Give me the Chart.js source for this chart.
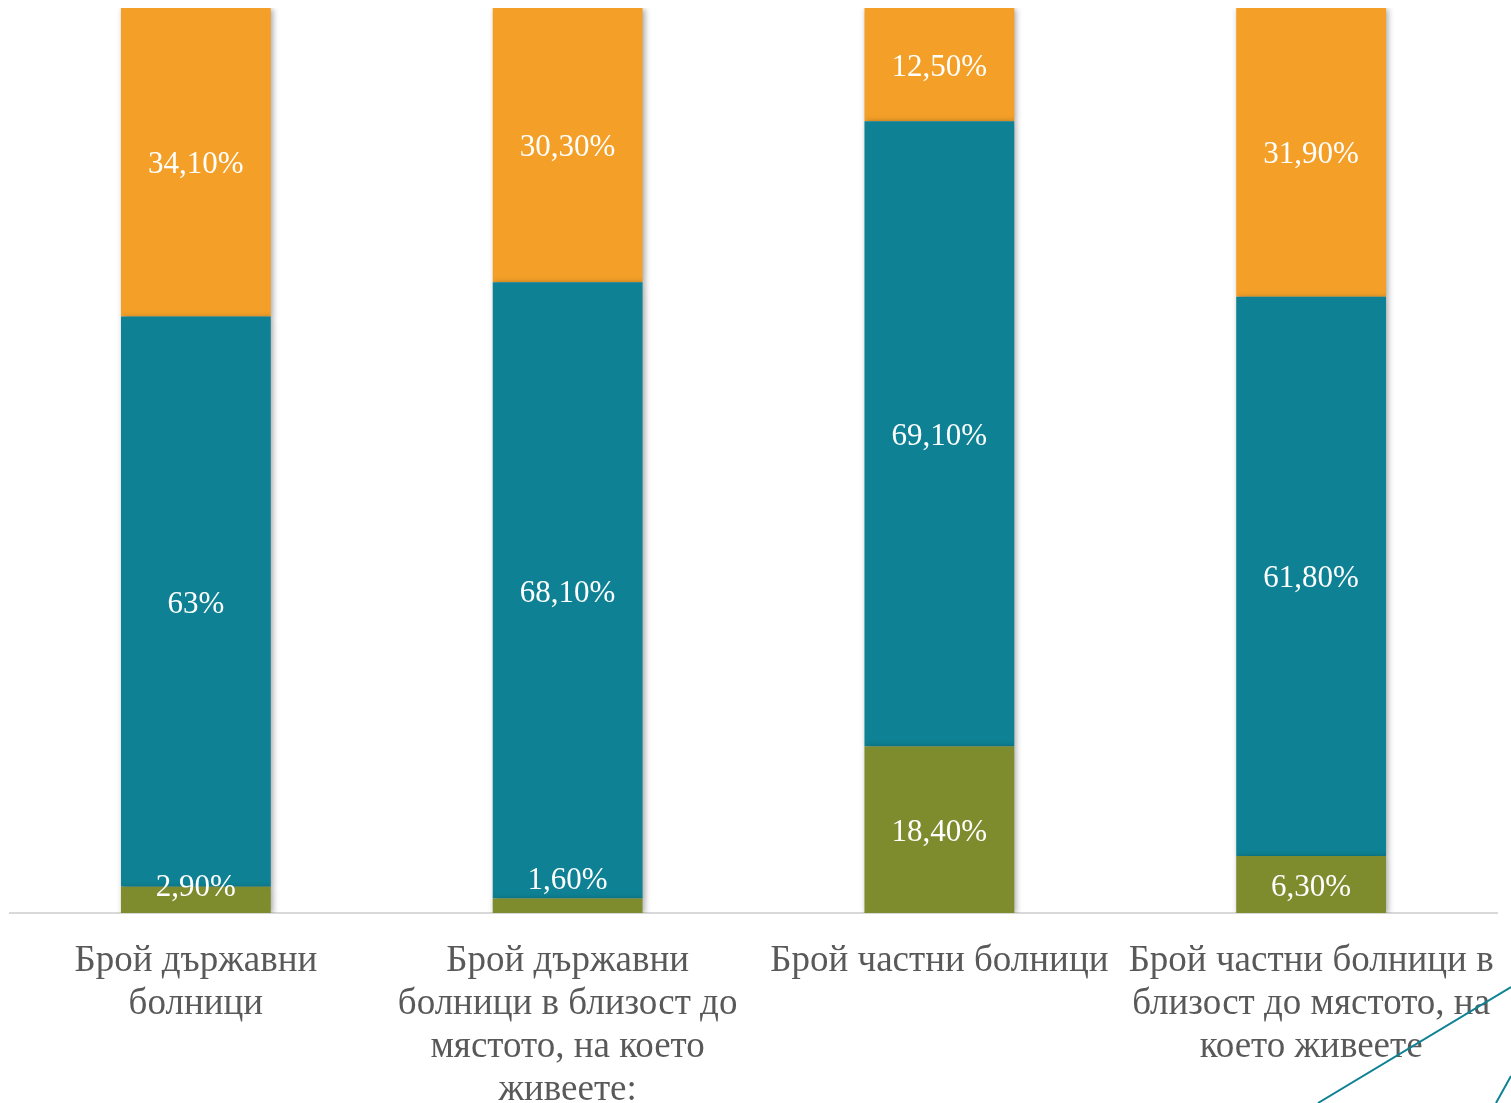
<!DOCTYPE html>
<html>
<head>
<meta charset="utf-8">
<script src="https://cdn.jsdelivr.net/npm/chart.js@4.4.0/dist/chart.umd.min.js"></script>
<style>
html,body{margin:0;padding:0;background:#fff;}
#wrap{width:1511px;height:1103px;position:relative;}
</style>
</head>
<body>
<div id="wrap"><canvas id="c" width="1511" height="1103"></canvas></div>
<script>
const categories = [
  ["Брой държавни", "болници"],
  ["Брой държавни", "болници в близост до", "мястото, на което", "живеете:"],
  ["Брой частни болници"],
  ["Брой частни болници в", "близост до мястото, на", "което живеете"]
];
const seriesNames = ["Series A", "Series B", "Series C"];
const bottomValues = [2.9, 1.6, 18.4, 6.3];
const middleValues = [63, 68.1, 69.1, 61.8];
const topValues = [34.1, 30.3, 12.5, 31.9];
const colors = ["#7F8C2E", "#0E8294", "#F4A028"];

function fmt(v){
  if (Number.isInteger(v)) return v + "%";
  return v.toFixed(2).replace(".", ",") + "%";
}

const shadowPlugin = {
  id: 'shadow',
  beforeDatasetsDraw(chart){
    const ctx = chart.ctx;
    ctx.save();
    ctx.shadowColor = 'rgba(0,0,0,0.35)';
    ctx.shadowBlur = 6;
    ctx.shadowOffsetX = 2;
    ctx.shadowOffsetY = 1;
  },
  afterDatasetsDraw(chart){
    chart.ctx.restore();
  }
};

const labelPlugin = {
  id: 'labels',
  afterDatasetsDraw(chart){
    const ctx = chart.ctx;
    ctx.save();
    ctx.font = '31px "Liberation Serif", "Times New Roman", serif';
    ctx.fillStyle = '#ffffff';
    ctx.textAlign = 'center';
    ctx.textBaseline = 'middle';
    chart.data.datasets.forEach((ds, di) => {
      const meta = chart.getDatasetMeta(di);
      meta.data.forEach((bar, i) => {
        const top = Math.min(bar.y, bar.base);
        const bot = Math.max(bar.y, bar.base);
        const h = bot - top;
        let y = (top + bot) / 2;
        if (h < 40) y -= (40 - h) * 1.1;
        ctx.fillText(fmt(ds.data[i]), bar.x, y + 3);
      });
    });
    ctx.restore();
  }
};

const decoPlugin = {
  id: 'deco',
  afterDraw(chart){
    const ctx = chart.ctx;
    ctx.save();
    ctx.strokeStyle = '#0E8294';
    ctx.lineWidth = 2;
    ctx.beginPath();
    ctx.moveTo(1318, 1103); ctx.lineTo(1511, 987);
    ctx.moveTo(1496, 1103); ctx.lineTo(1511, 1076);
    ctx.stroke();
    ctx.restore();
  }
};

new Chart(document.getElementById('c'), {
  type: 'bar',
  data: {
    labels: categories,
    datasets: [
      { label: seriesNames[0], data: bottomValues, backgroundColor: colors[0] },
      { label: seriesNames[1], data: middleValues, backgroundColor: colors[1] },
      { label: seriesNames[2], data: topValues, backgroundColor: colors[2] }
    ]
  },
  options: {
    responsive: false,
    animation: false,
    layout: { padding: { left: 10, right: 14, top: 8, bottom: 0 } },
    datasets: { bar: { categoryPercentage: 1, barPercentage: 0.403, borderWidth: 0 } },
    plugins: { legend: { display: false }, tooltip: { enabled: false } },
    scales: {
      x: {
        stacked: true,
        afterFit(s){ s.height = 190; s.paddingLeft = 0; s.paddingRight = 0; },
        grid: { display: false, drawTicks: false },
        border: { display: true, color: '#d9d9d9', width: 2 },
        ticks: {
          color: '#595959',
          padding: 27,
          maxRotation: 0,
          autoSkip: false,
          font: { family: '"Liberation Serif", "Times New Roman", serif', size: 37, lineHeight: 1.16 }
        }
      },
      y: {
        stacked: true,
        display: false,
        min: 0,
        max: 100
      }
    }
  },
  plugins: [shadowPlugin, labelPlugin, decoPlugin]
});
</script>
</body>
</html>
